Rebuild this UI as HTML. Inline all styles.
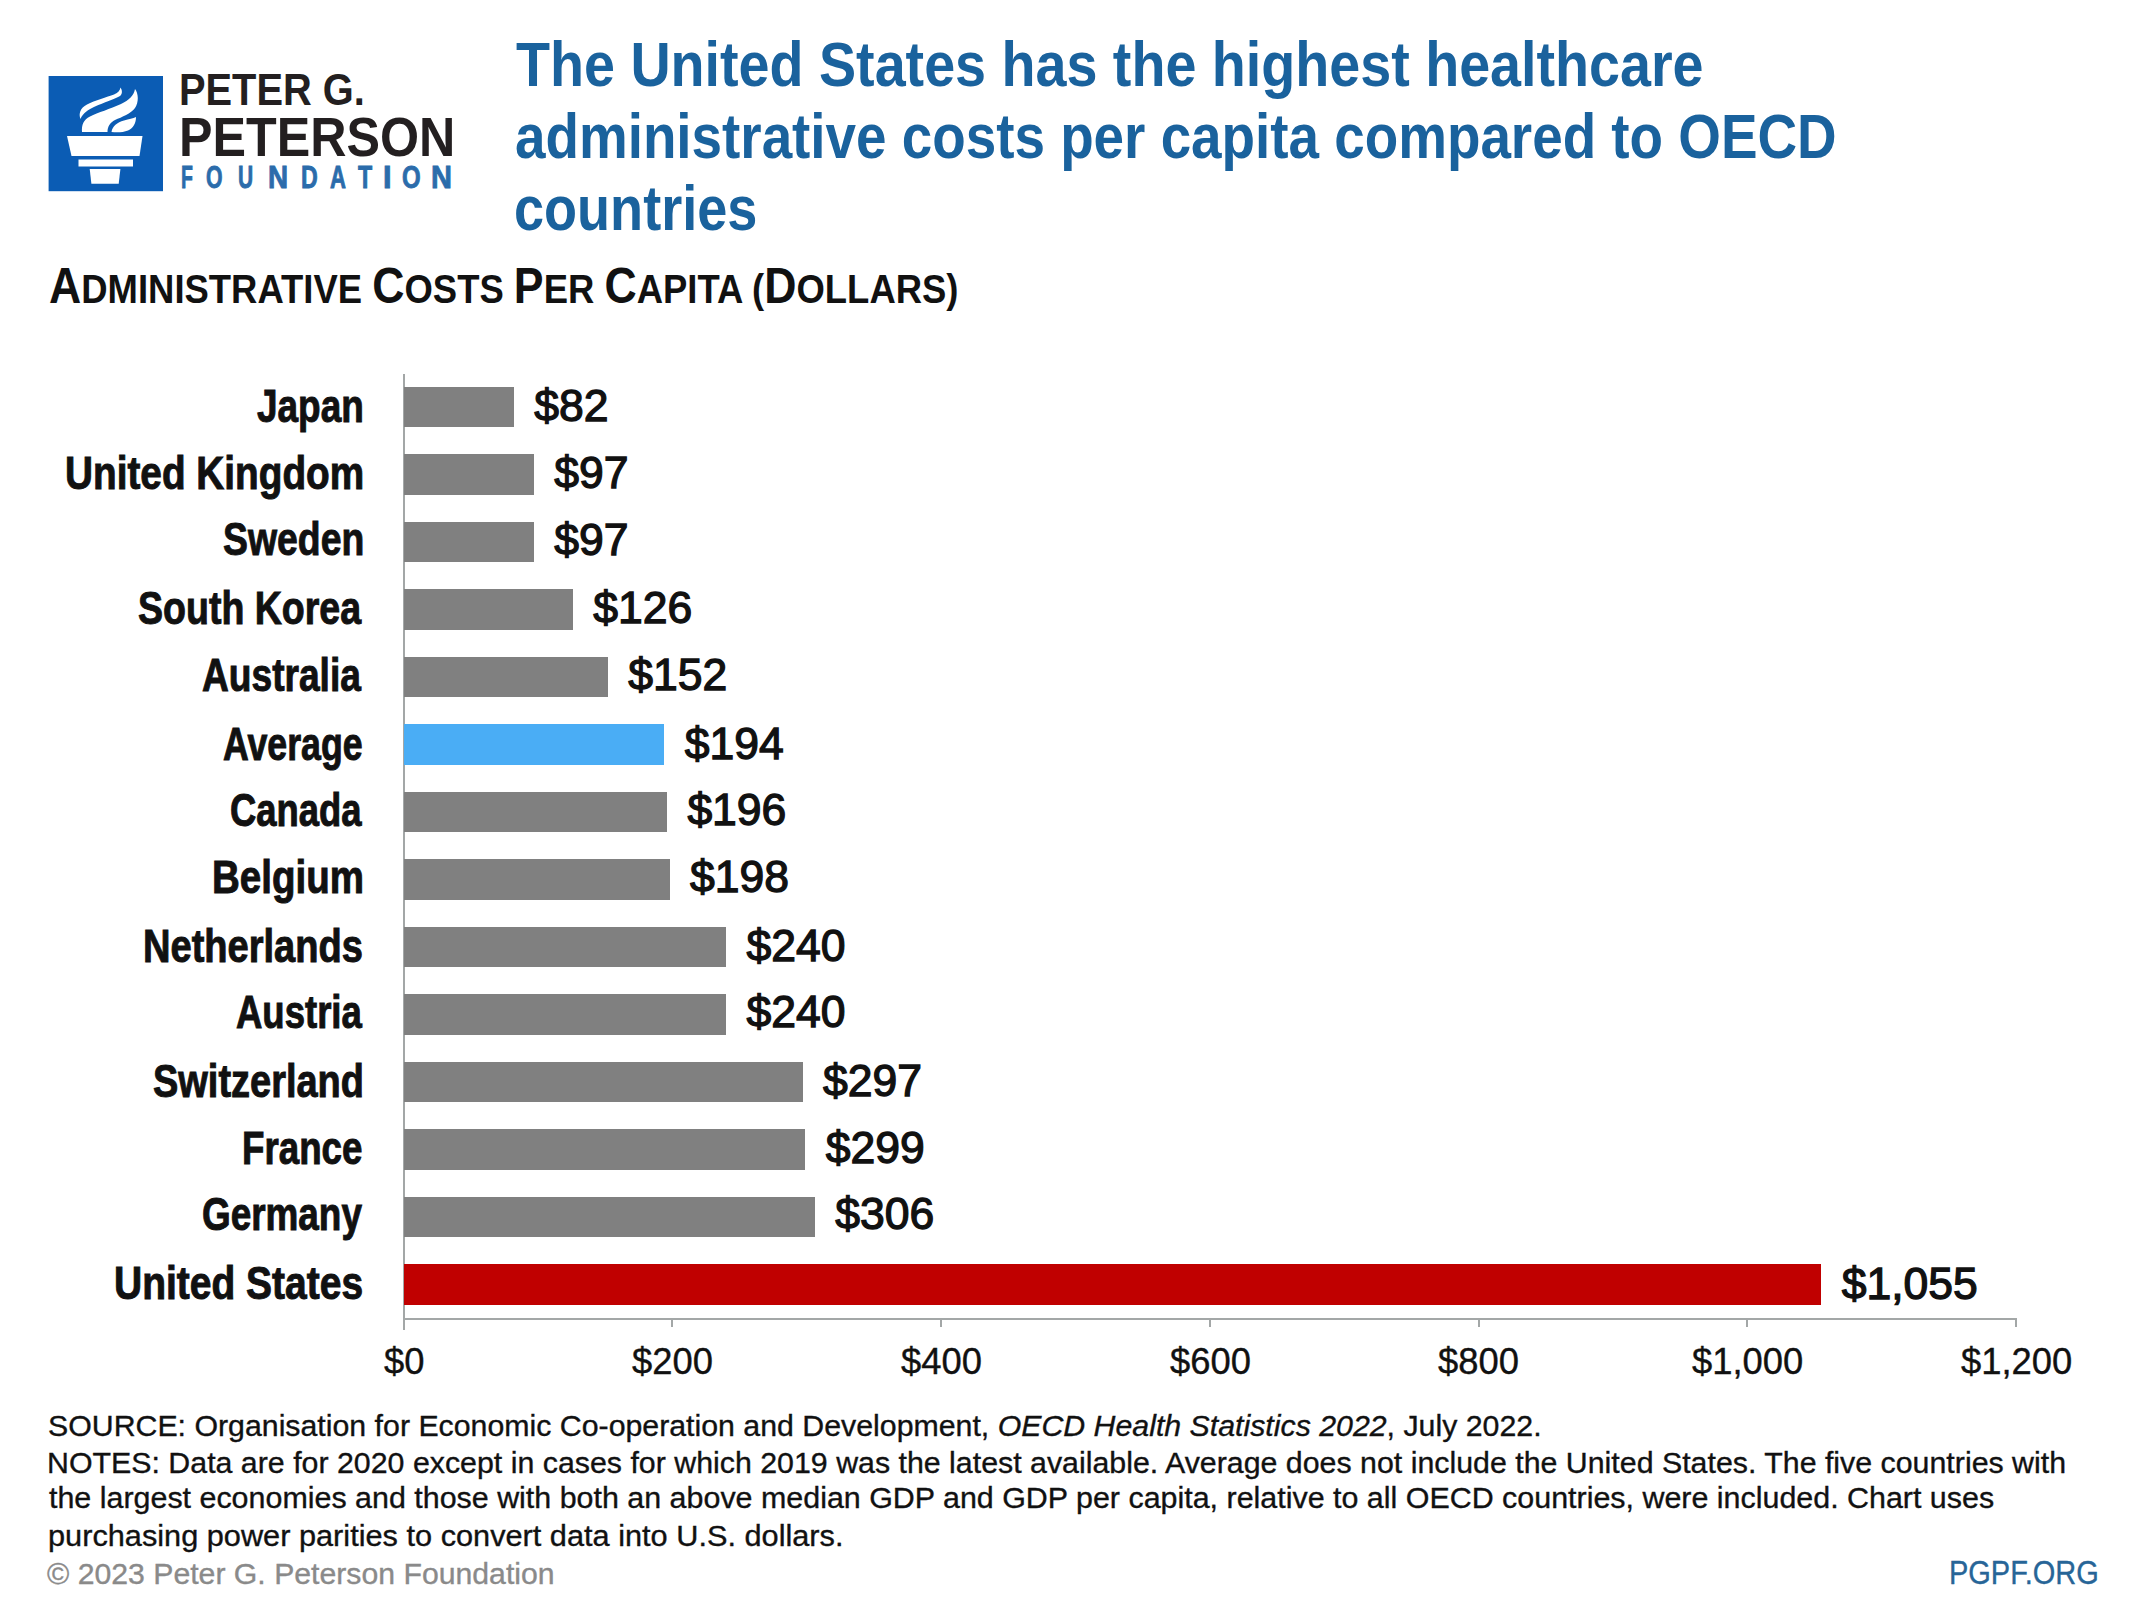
<!DOCTYPE html>
<html><head><meta charset="utf-8"><title>US healthcare administrative costs per capita</title>
<style>
html,body{margin:0;padding:0;background:#fff;}
body{width:2144px;height:1618px;position:relative;overflow:hidden;font-family:"Liberation Sans",sans-serif;}
.t{position:absolute;white-space:nowrap;line-height:1;transform-origin:0 0;}
.t span{line-height:1;}
.bar{position:absolute;}
.foot{-webkit-text-stroke:0.35px currentColor;}
.val{-webkit-text-stroke:1.3px currentColor;}
.axis{-webkit-text-stroke:0.4px currentColor;}
.lbl{-webkit-text-stroke:1px currentColor;}
.fnd{-webkit-text-stroke:0.9px currentColor;}
.tick{position:absolute;width:2px;height:9px;background:#a3a7a7;}
:root{--fls:0px;}
</style></head><body>
<svg style="position:absolute;left:47px;top:76px" width="117" height="116" viewBox="0 0 117 116">
<rect x="1.6" y="-0.4" width="114.4" height="115.6" fill="#0b5cb4"/>
<g fill="#fff">
<path d="M33.5 43 C 31.5 38, 33 32, 40 28.5 C 48 24.5, 60 21, 67 18.5 C 70.5 17, 73 15, 73.5 11.5 C 75.5 14.5, 75.5 18, 73 20 C 67 23.5, 57 26.5, 48 30.5 C 41 33.5, 36 37, 33.5 43 Z"/>
<path d="M35 56 C 34.5 49, 36.5 43.5, 43 40.5 C 51 36.5, 63 33, 74 28 C 82 24, 87 19.5, 88 13 C 91.5 17.5, 92 26, 88 32 C 84 37.5, 75 41, 68 44 C 63 46.5, 60.5 50.5, 60.5 56 Z"/>
<path d="M64.5 56 C 65.5 50, 70 46.5, 77 44.5 C 82 43, 86 42.5, 89 41 C 89 47, 86.5 52, 81 54.5 C 76 56.5, 70 56.5, 64.5 56 Z"/>
<path d="M20 60 L95.5 60 L92.5 80 L24.5 80 Z"/>
<rect x="31.5" y="83.5" width="54.5" height="7"/>
<path d="M42.7 93 L73.4 93 L71.7 107.7 L44.4 107.7 Z"/>
</g>
</svg>

<div style="position:absolute;left:402.5px;top:373.5px;width:2px;height:956px;background:#a3a7a7"></div>
<div style="position:absolute;left:402.5px;top:1317.5px;width:1614px;height:2px;background:#a3a7a7"></div>
<div class="tick" style="left:402.50px;top:1318px;"></div><div class="tick" style="left:671.25px;top:1318px;"></div><div class="tick" style="left:940.00px;top:1318px;"></div><div class="tick" style="left:1208.75px;top:1318px;"></div><div class="tick" style="left:1477.50px;top:1318px;"></div><div class="tick" style="left:1746.25px;top:1318px;"></div><div class="tick" style="left:2015.00px;top:1318px;"></div>
<div class="bar" style="left:403.50px;top:386.50px;width:110.19px;height:40.5px;background:#808080"></div><div class="bar" style="left:403.50px;top:454.00px;width:130.34px;height:40.5px;background:#808080"></div><div class="bar" style="left:403.50px;top:521.50px;width:130.34px;height:40.5px;background:#808080"></div><div class="bar" style="left:403.50px;top:589.00px;width:169.31px;height:40.5px;background:#808080"></div><div class="bar" style="left:403.50px;top:656.50px;width:204.25px;height:40.5px;background:#808080"></div><div class="bar" style="left:403.50px;top:724.00px;width:260.69px;height:40.5px;background:#4aadf5"></div><div class="bar" style="left:403.50px;top:791.50px;width:263.38px;height:40.5px;background:#808080"></div><div class="bar" style="left:403.50px;top:859.00px;width:266.06px;height:40.5px;background:#808080"></div><div class="bar" style="left:403.50px;top:926.50px;width:322.50px;height:40.5px;background:#808080"></div><div class="bar" style="left:403.50px;top:994.00px;width:322.50px;height:40.5px;background:#808080"></div><div class="bar" style="left:403.50px;top:1061.50px;width:399.09px;height:40.5px;background:#808080"></div><div class="bar" style="left:403.50px;top:1129.00px;width:401.78px;height:40.5px;background:#808080"></div><div class="bar" style="left:403.50px;top:1196.50px;width:411.19px;height:40.5px;background:#808080"></div><div class="bar" style="left:403.50px;top:1264.00px;width:1417.66px;height:40.5px;background:#c00000"></div>
<div class="t " style="left:179.35px;top:66.71px;font-size:45px;color:#231f20;transform:scaleX(0.8849);"><span style="font-size:45px;font-weight:bold;">PETER G.</span></div><div class="t " style="left:179.30px;top:109.07px;font-size:55.8px;color:#231f20;transform:scaleX(0.9001);"><span style="font-size:55.8px;font-weight:bold;">PETERSON</span></div><div class="t fnd" style="left:180.66px;top:162.04px;font-size:31.5px;color:#2b6cab;transform:scaleX(0.6176);"><span style="font-size:31.5px;font-weight:bold;">F</span></div><div class="t fnd" style="left:206.33px;top:162.04px;font-size:31.5px;color:#2b6cab;transform:scaleX(0.6739);"><span style="font-size:31.5px;font-weight:bold;">O</span></div><div class="t fnd" style="left:237.94px;top:162.04px;font-size:31.5px;color:#2b6cab;transform:scaleX(0.6650);"><span style="font-size:31.5px;font-weight:bold;">U</span></div><div class="t fnd" style="left:267.53px;top:162.04px;font-size:31.5px;color:#2b6cab;transform:scaleX(0.8842);"><span style="font-size:31.5px;font-weight:bold;">N</span></div><div class="t fnd" style="left:301.43px;top:162.04px;font-size:31.5px;color:#2b6cab;transform:scaleX(0.7350);"><span style="font-size:31.5px;font-weight:bold;">D</span></div><div class="t fnd" style="left:329.50px;top:162.04px;font-size:31.5px;color:#2b6cab;transform:scaleX(0.7000);"><span style="font-size:31.5px;font-weight:bold;">A</span></div><div class="t fnd" style="left:358.20px;top:162.04px;font-size:31.5px;color:#2b6cab;transform:scaleX(0.7368);"><span style="font-size:31.5px;font-weight:bold;">T</span></div><div class="t fnd" style="left:382.84px;top:162.04px;font-size:31.5px;color:#2b6cab;transform:scaleX(0.9800);"><span style="font-size:31.5px;font-weight:bold;">I</span></div><div class="t fnd" style="left:402.24px;top:162.04px;font-size:31.5px;color:#2b6cab;transform:scaleX(0.7609);"><span style="font-size:31.5px;font-weight:bold;">O</span></div><div class="t fnd" style="left:431.16px;top:162.04px;font-size:31.5px;color:#2b6cab;transform:scaleX(0.9211);"><span style="font-size:31.5px;font-weight:bold;">N</span></div><div class="t " style="left:516.00px;top:33.37px;font-size:63px;color:#1a629d;transform:scaleX(0.8834);"><span style="font-size:63px;font-weight:bold;">The United States has the highest healthcare</span></div><div class="t " style="left:514.63px;top:105.37px;font-size:63px;color:#1a629d;transform:scaleX(0.8698);"><span style="font-size:63px;font-weight:bold;">administrative costs per capita compared to OECD</span></div><div class="t " style="left:513.78px;top:177.17px;font-size:63px;color:#1a629d;transform:scaleX(0.8582);"><span style="font-size:63px;font-weight:bold;">countries</span></div><div class="t " style="left:48.91px;top:261.22px;font-size:50.3px;color:#111;transform:scaleX(0.8872);"><span style="font-size:50.3px;font-weight:bold;">A</span><span style="font-size:41.1px;font-weight:bold;">DMINISTRATIVE </span><span style="font-size:50.3px;font-weight:bold;">C</span><span style="font-size:41.1px;font-weight:bold;">OSTS </span><span style="font-size:50.3px;font-weight:bold;">P</span><span style="font-size:41.1px;font-weight:bold;">ER </span><span style="font-size:50.3px;font-weight:bold;">C</span><span style="font-size:41.1px;font-weight:bold;">APITA (</span><span style="font-size:50.3px;font-weight:bold;">D</span><span style="font-size:41.1px;font-weight:bold;">OLLARS)</span></div><div class="t lbl" style="left:257.30px;top:381.81px;font-size:47px;color:#111;transform:scaleX(0.7865);"><span style="font-size:47px;font-weight:bold;">Japan</span></div><div class="t val" style="left:534.19px;top:383.93px;font-size:44.5px;color:#111;transform:scaleX(1.0000);"><span style="font-size:44.5px;">$82</span></div><div class="t lbl" style="left:65.05px;top:448.71px;font-size:47px;color:#111;transform:scaleX(0.8246);"><span style="font-size:47px;font-weight:bold;">United Kingdom</span></div><div class="t val" style="left:554.34px;top:450.83px;font-size:44.5px;color:#111;transform:scaleX(1.0000);"><span style="font-size:44.5px;">$97</span></div><div class="t lbl" style="left:222.90px;top:515.41px;font-size:47px;color:#111;transform:scaleX(0.7953);"><span style="font-size:47px;font-weight:bold;">Sweden</span></div><div class="t val" style="left:554.34px;top:517.53px;font-size:44.5px;color:#111;transform:scaleX(1.0000);"><span style="font-size:44.5px;">$97</span></div><div class="t lbl" style="left:138.20px;top:584.11px;font-size:47px;color:#111;transform:scaleX(0.7985);"><span style="font-size:47px;font-weight:bold;">South Korea</span></div><div class="t val" style="left:593.31px;top:586.23px;font-size:44.5px;color:#111;transform:scaleX(1.0000);"><span style="font-size:44.5px;">$126</span></div><div class="t lbl" style="left:202.41px;top:650.71px;font-size:47px;color:#111;transform:scaleX(0.7901);"><span style="font-size:47px;font-weight:bold;">Australia</span></div><div class="t val" style="left:628.25px;top:652.83px;font-size:44.5px;color:#111;transform:scaleX(1.0000);"><span style="font-size:44.5px;">$152</span></div><div class="t lbl" style="left:223.24px;top:719.51px;font-size:47px;color:#111;transform:scaleX(0.7598);"><span style="font-size:47px;font-weight:bold;">Average</span></div><div class="t val" style="left:684.69px;top:721.63px;font-size:44.5px;color:#111;transform:scaleX(1.0000);"><span style="font-size:44.5px;">$194</span></div><div class="t lbl" style="left:229.93px;top:785.81px;font-size:47px;color:#111;transform:scaleX(0.7740);"><span style="font-size:47px;font-weight:bold;">Canada</span></div><div class="t val" style="left:687.38px;top:787.93px;font-size:44.5px;color:#111;transform:scaleX(1.0000);"><span style="font-size:44.5px;">$196</span></div><div class="t lbl" style="left:212.34px;top:852.71px;font-size:47px;color:#111;transform:scaleX(0.8195);"><span style="font-size:47px;font-weight:bold;">Belgium</span></div><div class="t val" style="left:690.06px;top:854.83px;font-size:44.5px;color:#111;transform:scaleX(1.0000);"><span style="font-size:44.5px;">$198</span></div><div class="t lbl" style="left:143.07px;top:921.81px;font-size:47px;color:#111;transform:scaleX(0.8094);"><span style="font-size:47px;font-weight:bold;">Netherlands</span></div><div class="t val" style="left:746.50px;top:923.93px;font-size:44.5px;color:#111;transform:scaleX(1.0000);"><span style="font-size:44.5px;">$240</span></div><div class="t lbl" style="left:235.52px;top:988.01px;font-size:47px;color:#111;transform:scaleX(0.7769);"><span style="font-size:47px;font-weight:bold;">Austria</span></div><div class="t val" style="left:746.50px;top:990.13px;font-size:44.5px;color:#111;transform:scaleX(1.0000);"><span style="font-size:44.5px;">$240</span></div><div class="t lbl" style="left:153.19px;top:1057.01px;font-size:47px;color:#111;transform:scaleX(0.8079);"><span style="font-size:47px;font-weight:bold;">Switzerland</span></div><div class="t val" style="left:823.09px;top:1059.13px;font-size:44.5px;color:#111;transform:scaleX(1.0000);"><span style="font-size:44.5px;">$297</span></div><div class="t lbl" style="left:242.46px;top:1123.71px;font-size:47px;color:#111;transform:scaleX(0.7814);"><span style="font-size:47px;font-weight:bold;">France</span></div><div class="t val" style="left:825.78px;top:1125.83px;font-size:44.5px;color:#111;transform:scaleX(1.0000);"><span style="font-size:44.5px;">$299</span></div><div class="t lbl" style="left:202.22px;top:1190.01px;font-size:47px;color:#111;transform:scaleX(0.7847);"><span style="font-size:47px;font-weight:bold;">Germany</span></div><div class="t val" style="left:835.19px;top:1192.13px;font-size:44.5px;color:#111;transform:scaleX(1.0000);"><span style="font-size:44.5px;">$306</span></div><div class="t lbl" style="left:113.84px;top:1259.41px;font-size:47px;color:#111;transform:scaleX(0.8294);"><span style="font-size:47px;font-weight:bold;">United States</span></div><div class="t val" style="left:1841.66px;top:1261.53px;font-size:44.5px;color:#111;transform:scaleX(1.0000);"><span style="font-size:44.5px;">$1,055</span></div><div class="t axis" style="left:383.68px;top:1342.86px;font-size:37.5px;color:#111;transform:scaleX(0.9700);"><span style="font-size:37.5px;">$0</span></div><div class="t axis" style="left:632.20px;top:1342.86px;font-size:37.5px;color:#111;transform:scaleX(0.9700);"><span style="font-size:37.5px;">$200</span></div><div class="t axis" style="left:900.95px;top:1342.86px;font-size:37.5px;color:#111;transform:scaleX(0.9700);"><span style="font-size:37.5px;">$400</span></div><div class="t axis" style="left:1169.70px;top:1342.86px;font-size:37.5px;color:#111;transform:scaleX(0.9700);"><span style="font-size:37.5px;">$600</span></div><div class="t axis" style="left:1438.45px;top:1342.86px;font-size:37.5px;color:#111;transform:scaleX(0.9700);"><span style="font-size:37.5px;">$800</span></div><div class="t axis" style="left:1692.04px;top:1342.86px;font-size:37.5px;color:#111;transform:scaleX(0.9700);"><span style="font-size:37.5px;">$1,000</span></div><div class="t axis" style="left:1960.79px;top:1342.86px;font-size:37.5px;color:#111;transform:scaleX(0.9700);"><span style="font-size:37.5px;">$1,200</span></div><div class="t foot" style="left:47.69px;top:1411.40px;font-size:30px;color:#111;transform:scaleX(1.0098);"><span style="font-size:30px;">SOURCE: Organisation for Economic Co-operation and Development, </span><span style="font-size:30px;font-style:italic;">OECD Health Statistics 2022</span><span style="font-size:30px;">, July 2022.</span></div><div class="t foot" style="left:46.68px;top:1448.01px;font-size:30px;color:#111;transform:scaleX(1.0112);"><span style="font-size:30px;">NOTES: Data are for 2020 except in cases for which 2019 was the latest available. Average does not include the United States. The five countries with</span></div><div class="t foot" style="left:48.70px;top:1483.40px;font-size:30px;color:#111;transform:scaleX(1.0140);"><span style="font-size:30px;">the largest economies and those with both an above median GDP and GDP per capita, relative to all OECD countries, were included. Chart uses</span></div><div class="t foot" style="left:47.68px;top:1520.61px;font-size:30px;color:#111;transform:scaleX(1.0237);"><span style="font-size:30px;">purchasing power parities to convert data into U.S. dollars.</span></div><div class="t foot" style="left:46.80px;top:1559.40px;font-size:30px;color:#8a8a8a;transform:scaleX(1.0070);"><span style="font-size:30px;">© 2023 Peter G. Peterson Foundation</span></div><div class="t foot" style="left:1948.52px;top:1557.39px;font-size:32.5px;color:#276597;transform:scaleX(0.8915);"><span style="font-size:32.5px;">PGPF.ORG</span></div>
</body></html>
